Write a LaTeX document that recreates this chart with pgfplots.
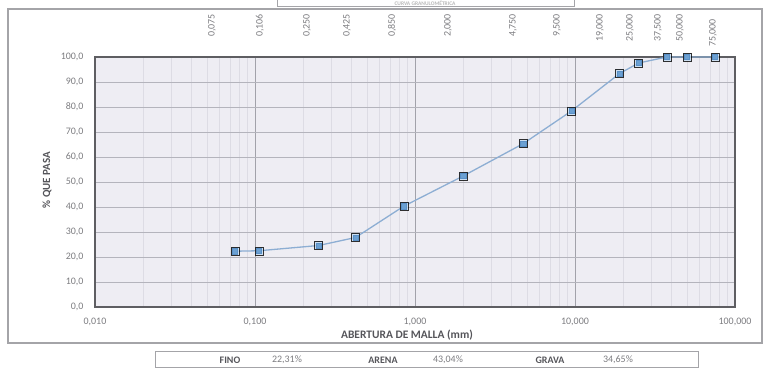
\documentclass[border=0pt]{standalone}
\usepackage{fontspec}
\setmainfont{Carlito}
\usepackage{pgfplots}
\pgfplotsset{compat=1.18}
\usepackage{pgfplotstable}
\definecolor{plotbg}{HTML}{EEEDF3}
\definecolor{axisgray}{HTML}{5E5E62}
\definecolor{framegray}{HTML}{A4A4A8}
\definecolor{tickgray}{HTML}{7C7C80}
\definecolor{labgray}{HTML}{55555A}
\definecolor{hgrid}{HTML}{B4B4BC}
\definecolor{vmajor}{HTML}{A2A2AA}
\definecolor{vminor}{HTML}{DDDCE4}
\definecolor{curve}{HTML}{8DAED3}
\definecolor{markfill}{HTML}{6BA0D2}
\definecolor{markdraw}{HTML}{5A90C6}
\definecolor{halo}{HTML}{C4DCF2}

\pgfplotstableread{
x y
0.075 22.31
0.106 22.5
0.250 24.6
0.425 27.8
0.850 40.3
2.000 52.4
4.750 65.35
9.500 78.4
19.000 93.4
25.000 97.6
37.500 100
50.000 100
75.000 100
}\gran

\newcommand{\tickfont}{\fontsize{10}{11}\selectfont}
\newcommand{\toplab}[3][356bp]{\node[rotate=90, anchor=east, text=tickgray, font=\tickfont, inner sep=0pt] at (#2bp,#1) {#3};}

\begin{document}
\begin{tikzpicture}
\useasboundingbox (0,0) rectangle (771bp,370bp);
% outer frame
\draw[framegray, line width=1.5bp] (8bp,27bp) rectangle (762bp,361bp);
% title box (cut by page edge)
\draw[framegray, line width=1bp, fill=white] (277bp,363bp) rectangle (574bp,382bp);
\node[text=gray!55, font=\fontsize{5.5}{6}\selectfont\bfseries, inner sep=0pt] at (425bp,366.8bp) {CURVA GRANULOMÉTRICA};

\begin{axis}[
  at={(95bp,63bp)}, anchor=south west,
  scale only axis, width=640bp, height=250bp,
  xmode=log, xmin=0.01, xmax=100, ymin=0, ymax=100,
  axis background/.style={fill=plotbg},
  axis line style={draw=axisgray, line width=2bp},
  xtick={0.01,0.1,1,10,100},
  xticklabels={{0,010},{0,100},{1,000},{10,000},{100,000}},
  ytick={0,10,...,100},
  yticklabels={{0,0},{10,0},{20,0},{30,0},{40,0},{50,0},{60,0},{70,0},{80,0},{90,0},{100,0}},
  xmajorgrids, xminorgrids, ymajorgrids,
  major x grid style={draw=vmajor, line width=0.6bp},
  minor x grid style={draw=vminor, line width=0.5bp},
  major y grid style={draw=hgrid, line width=0.6bp},
  major tick length=0pt, minor tick length=0pt,
  tick style={draw=none},
  ticklabel style={font=\tickfont, text=tickgray},
  yticklabel style={xshift=-8bp},
  xticklabel style={yshift=-8bp},
  clip=false,
]
\addplot[curve, line width=1.3bp, no marks] table[x=x,y=y]{\gran};
\addplot[only marks, mark=square*, mark size=4bp, mark options={fill=halo, draw=none, opacity=0.8}] table[x=x,y=y]{\gran};
\addplot[only marks, mark=square*, mark size=2.6bp, mark options={fill=markfill, draw=markdraw, line width=0.4bp}] table[x=x,y=y]{\gran};
\end{axis}

% axis titles
\node[rotate=90, text=labgray, font=\fontsize{11}{12}\selectfont\bfseries] at (47bp,190bp) {\% QUE PASA};
\node[text=labgray, font=\fontsize{11.5}{12}\selectfont\bfseries] at (407bp,35bp) {ABERTURA DE MALLA (mm)};

% sieve labels on top
\toplab{212}{0,075}
\toplab{260}{0,106}
\toplab{307}{0,250}
\toplab{347}{0,425}
\toplab{392}{0,850}
\toplab{448}{2,000}
\toplab{513}{4,750}
\toplab{557}{9,500}
\toplab{600}{19,000}
\toplab{630}{25,000}
\toplab{658}{37,500}
\toplab{680}{50,000}
\toplab[351bp]{713}{75,000}

% summary box
\draw[framegray, line width=1bp] (155bp,2bp) rectangle (698bp,18bp);
\node[text=labgray, font=\fontsize{10}{11}\selectfont\bfseries] at (230bp,10bp) {FINO};
\node[text=tickgray, font=\tickfont] at (287bp,10bp) {22,31\%};
\node[text=labgray, font=\fontsize{10}{11}\selectfont\bfseries] at (383bp,10bp) {ARENA};
\node[text=tickgray, font=\tickfont] at (448bp,10bp) {43,04\%};
\node[text=labgray, font=\fontsize{10}{11}\selectfont\bfseries] at (550bp,10bp) {GRAVA};
\node[text=tickgray, font=\tickfont] at (618bp,10bp) {34,65\%};
\end{tikzpicture}
\end{document}
